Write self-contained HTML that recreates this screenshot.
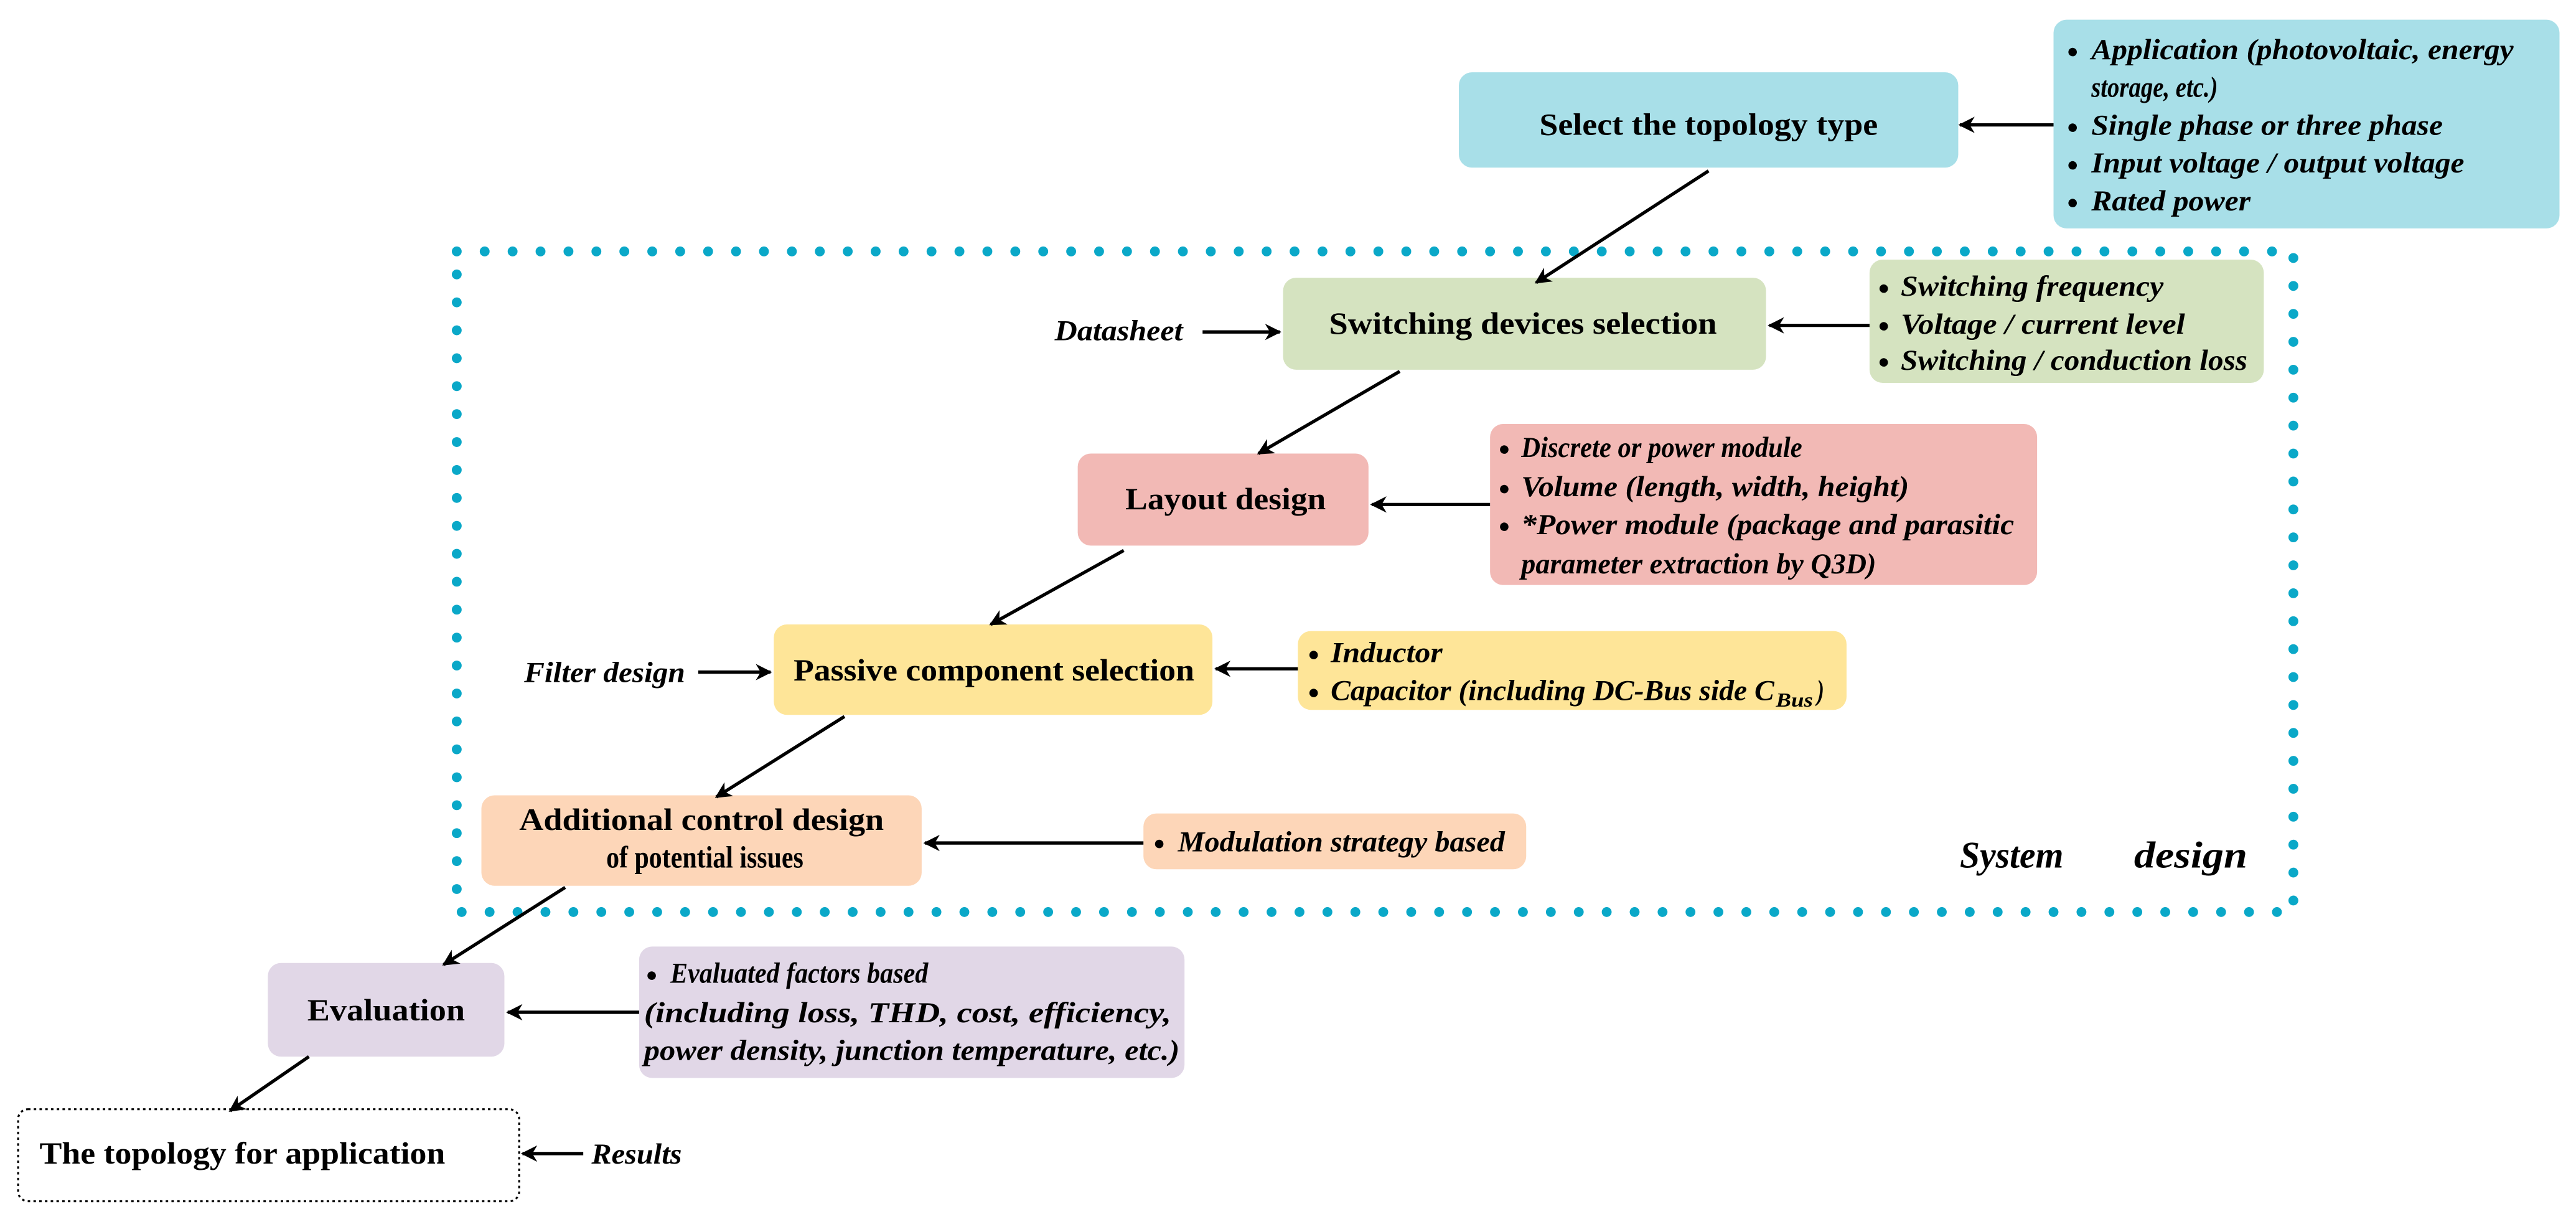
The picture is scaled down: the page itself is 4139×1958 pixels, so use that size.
<!DOCTYPE html>
<html><head><meta charset="utf-8"><style>
html,body{margin:0;padding:0;background:#fff;}
svg{display:block;}
text{font-family:'Liberation Serif','Times New Roman',Times,serif;font-weight:bold;fill:#000;}
.t{font-size:19px;}
.i{font-size:17.5px;font-style:italic;}
.b{font-size:12px;font-style:normal;}
</style></head><body>
<svg width="4139" height="1958" viewBox="0 0 1568 741.8" xmlns="http://www.w3.org/2000/svg">
<defs>
<marker id="a" viewBox="0 0 10 10" refX="9" refY="5" markerWidth="5" markerHeight="5" orient="auto-start-reverse" markerUnits="strokeWidth">
<path d="M0,0 L10,5 L0,10 L3,5 z" fill="#000"/></marker>
</defs>
<rect x="278" y="153" width="1118" height="402" fill="none" stroke="#0aa8c8" stroke-width="6" stroke-linecap="round" stroke-dasharray="0 17"/>
<text x="1193" y="528" style="font-size:23px;font-style:italic" transform="matrix(.75 0 0 1 298.25 0)" textLength="84" lengthAdjust="spacingAndGlyphs">System</text>
<text x="1299" y="528" style="font-size:23px;font-style:italic" transform="matrix(.75 0 0 1 324.75 0)" textLength="92" lengthAdjust="spacingAndGlyphs">design</text>

<rect x="888" y="44" width="304" height="58" rx="8" fill="#a8dfe8"/>
<text class="t" x="937" y="82" transform="matrix(.75 0 0 1 234.25 0)" textLength="274.7" lengthAdjust="spacingAndGlyphs">Select the topology type</text>
<rect x="1250" y="12" width="308" height="127" rx="8" fill="#a8dfe8"/>
<text class="b" x="1258" y="35">●</text><text class="i" x="1273" y="36" transform="matrix(.75 0 0 1 318.25 0)" textLength="342.7" lengthAdjust="spacingAndGlyphs">Application (photovoltaic, energy</text>
<text class="i" x="1273" y="59" transform="matrix(.75 0 0 1 318.25 0)" textLength="102.7" lengthAdjust="spacingAndGlyphs">storage, etc.)</text>
<text class="b" x="1258" y="81">●</text><text class="i" x="1273" y="82" transform="matrix(.75 0 0 1 318.25 0)" textLength="285.3" lengthAdjust="spacingAndGlyphs">Single phase or three phase</text>
<text class="b" x="1258" y="104">●</text><text class="i" x="1273" y="105" transform="matrix(.75 0 0 1 318.25 0)" textLength="302.7" lengthAdjust="spacingAndGlyphs">Input voltage / output voltage</text>
<text class="b" x="1258" y="127">●</text><text class="i" x="1273" y="128" transform="matrix(.75 0 0 1 318.25 0)" textLength="129.3" lengthAdjust="spacingAndGlyphs">Rated power</text>

<rect x="781" y="169" width="294" height="56" rx="8" fill="#d5e3c0"/>
<text class="t" x="809" y="203" transform="matrix(.75 0 0 1 202.25 0)" textLength="314.7" lengthAdjust="spacingAndGlyphs">Switching devices selection</text>
<rect x="1138" y="158" width="240" height="75" rx="8" fill="#d5e3c0"/>
<text class="b" x="1143" y="179">●</text><text class="i" x="1157" y="180" transform="matrix(.75 0 0 1 289.25 0)" textLength="213.3" lengthAdjust="spacingAndGlyphs">Switching frequency</text>
<text class="b" x="1143" y="202">●</text><text class="i" x="1157" y="203" transform="matrix(.75 0 0 1 289.25 0)" textLength="230.7" lengthAdjust="spacingAndGlyphs">Voltage / current level</text>
<text class="b" x="1143" y="224">●</text><text class="i" x="1157" y="225" transform="matrix(.75 0 0 1 289.25 0)" textLength="281.3" lengthAdjust="spacingAndGlyphs">Switching / conduction loss</text>
<text class="i" x="642" y="207" transform="matrix(.75 0 0 1 160.5 0)" textLength="104" lengthAdjust="spacingAndGlyphs">Datasheet</text>

<rect x="656" y="276" width="177" height="56" rx="8" fill="#f2b9b5"/>
<text class="t" x="685" y="310" transform="matrix(.75 0 0 1 171.25 0)" textLength="162.7" lengthAdjust="spacingAndGlyphs">Layout design</text>
<rect x="907" y="258" width="333" height="98" rx="8" fill="#f2b9b5"/>
<text class="b" x="912" y="277">●</text><text class="i" x="926" y="278" transform="matrix(.75 0 0 1 231.5 0)" textLength="228" lengthAdjust="spacingAndGlyphs">Discrete or power module</text>
<text class="b" x="912" y="301">●</text><text class="i" x="926" y="302" transform="matrix(.75 0 0 1 231.5 0)" textLength="314.7" lengthAdjust="spacingAndGlyphs">Volume (length, width, height)</text>
<text class="b" x="912" y="324">●</text><text class="i" x="926" y="325" transform="matrix(.75 0 0 1 231.5 0)" textLength="400" lengthAdjust="spacingAndGlyphs">*Power module (package and parasitic</text>
<text class="i" x="926" y="349" transform="matrix(.75 0 0 1 231.5 0)" textLength="288" lengthAdjust="spacingAndGlyphs">parameter extraction by Q3D)</text>

<rect x="471" y="380" width="267" height="55" rx="8" fill="#fee598"/>
<text class="t" x="483" y="414" transform="matrix(.75 0 0 1 120.75 0)" textLength="325.3" lengthAdjust="spacingAndGlyphs">Passive component selection</text>
<rect x="790" y="384" width="334" height="48" rx="8" fill="#fee598"/>
<text class="b" x="796" y="402">●</text><text class="i" x="810" y="403" transform="matrix(.75 0 0 1 202.5 0)" textLength="90.7" lengthAdjust="spacingAndGlyphs">Inductor</text>
<text class="b" x="796" y="425">●</text><text class="i" x="810" y="426" transform="matrix(.75 0 0 1 202.5 0)" textLength="360" lengthAdjust="spacingAndGlyphs">Capacitor (including DC-Bus side C</text>
<text class="i" x="1081" y="430" style="font-size:12px" transform="matrix(.75 0 0 1 270.25 0)" textLength="30" lengthAdjust="spacingAndGlyphs">Bus</text>
<text class="i" x="1106" y="426" transform="matrix(.75 0 0 1 276.5 0)">)</text>
<text class="i" x="319" y="415" transform="matrix(.75 0 0 1 79.75 0)" textLength="130.7" lengthAdjust="spacingAndGlyphs">Filter design</text>

<rect x="293" y="484" width="268" height="55" rx="8" fill="#fdd6b8"/>
<text class="t" x="316" y="505" transform="matrix(.75 0 0 1 79 0)" textLength="296" lengthAdjust="spacingAndGlyphs">Additional control design</text>
<text class="t" x="369" y="528" transform="matrix(.75 0 0 1 92.25 0)" textLength="160" lengthAdjust="spacingAndGlyphs">of potential issues</text>
<rect x="696" y="495" width="233" height="34" rx="8" fill="#fdd6b8"/>
<text class="b" x="702" y="517">●</text><text class="i" x="717" y="518" transform="matrix(.75 0 0 1 179.25 0)" textLength="265.3" lengthAdjust="spacingAndGlyphs">Modulation strategy based</text>

<rect x="163" y="586" width="144" height="57" rx="8" fill="#e1d7e7"/>
<text class="t" x="187" y="621" transform="matrix(.75 0 0 1 46.75 0)" textLength="128" lengthAdjust="spacingAndGlyphs">Evaluation</text>
<rect x="389" y="576" width="332" height="80" rx="8" fill="#e1d7e7"/>
<text class="b" x="393" y="597">●</text><text class="i" x="408" y="598" transform="matrix(.75 0 0 1 102 0)" textLength="209.3" lengthAdjust="spacingAndGlyphs">Evaluated factors based</text>
<text class="i" x="392" y="622" transform="matrix(.75 0 0 1 98 0)" textLength="428" lengthAdjust="spacingAndGlyphs">(including loss, THD, cost, efficiency,</text>
<text class="i" x="392" y="645" transform="matrix(.75 0 0 1 98 0)" textLength="434.7" lengthAdjust="spacingAndGlyphs">power density, junction temperature, etc.)</text>

<rect x="11" y="675" width="305" height="56" rx="6" fill="none" stroke="#000" stroke-width="1.2" stroke-dasharray="1.5 2"/>
<text class="t" x="24" y="708" transform="matrix(.75 0 0 1 6 0)" textLength="329.3" lengthAdjust="spacingAndGlyphs">The topology for application</text>
<text class="i" x="360" y="708" transform="matrix(.75 0 0 1 90 0)" textLength="73.3" lengthAdjust="spacingAndGlyphs">Results</text>

<g stroke="#000" stroke-width="2" fill="none" marker-end="url(#a)">
<line x1="1250" y1="76" x2="1193" y2="76"/>
<line x1="1040" y1="104" x2="935" y2="172"/>
<line x1="732" y1="202" x2="779" y2="202"/>
<line x1="1138" y1="198" x2="1077" y2="198"/>
<line x1="852" y1="226" x2="766" y2="276"/>
<line x1="907" y1="307" x2="835" y2="307"/>
<line x1="684" y1="335" x2="603" y2="380"/>
<line x1="425" y1="409" x2="469" y2="409"/>
<line x1="790" y1="407" x2="740" y2="407"/>
<line x1="514" y1="436" x2="436" y2="485"/>
<line x1="696" y1="513" x2="563" y2="513"/>
<line x1="344" y1="540" x2="270" y2="587"/>
<line x1="389" y1="616" x2="309" y2="616"/>
<line x1="188" y1="643" x2="140" y2="676"/>
<line x1="355" y1="702" x2="318" y2="702"/>
</g>
</svg>
</body></html>
